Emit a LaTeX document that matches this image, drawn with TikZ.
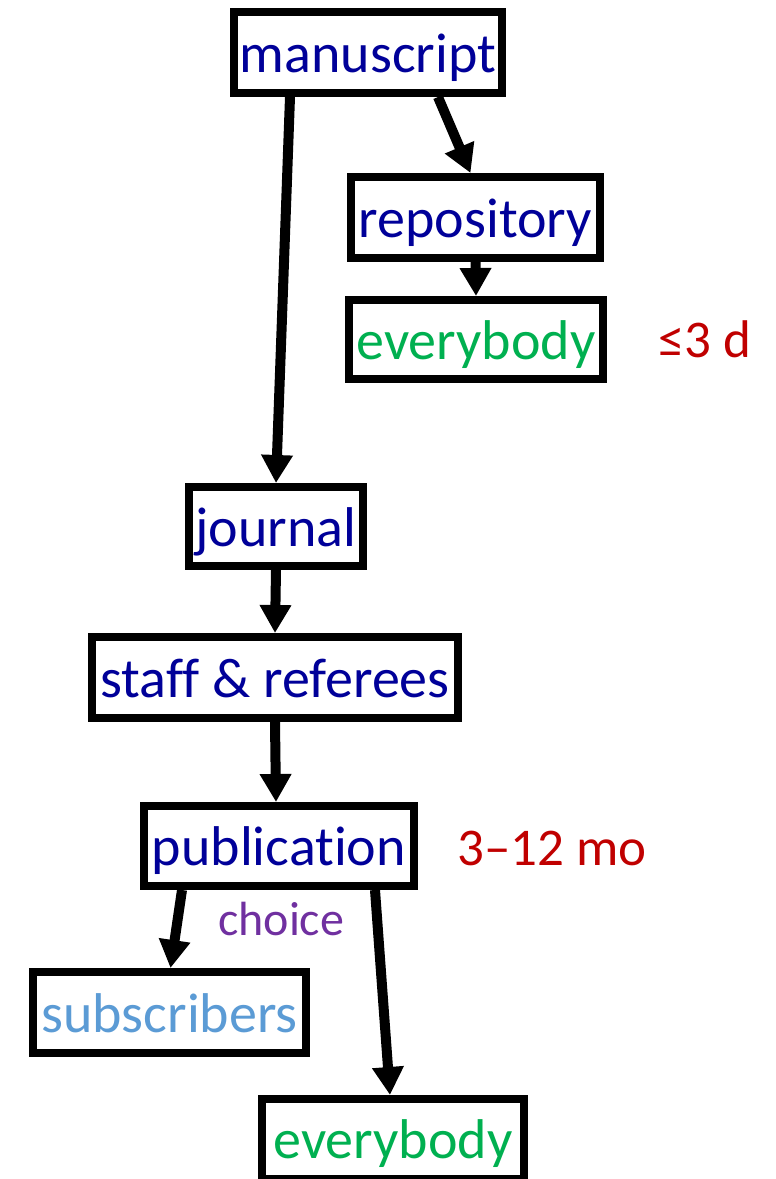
\documentclass[tikz,border=0pt]{standalone}
\usepackage{fontspec}
\setmainfont[Ligatures={NoCommon,NoDiscretionary}]{Carlito}
\usetikzlibrary{arrows.meta,calc}
\definecolor{navy}{RGB}{0,0,153}
\definecolor{okgreen}{RGB}{0,176,80}
\definecolor{darkred}{RGB}{192,0,0}
\definecolor{plum}{RGB}{112,48,160}
\definecolor{skyblue}{RGB}{91,155,213}
\begin{document}
\begin{tikzpicture}[x=1pt,y=-1pt,
  box/.style={draw=black,line width=8pt,fill=white,inner sep=0pt,
    font=\fontsize{56}{60}\selectfont,text height=42pt,text depth=3pt,
    minimum width=#1},
  box/.default=200pt,
  flow/.style={line width=10pt,-{Triangle[width=30pt,length=28pt]}},
  note/.style={inner sep=0pt,anchor=base west,font=\fontsize{53}{58}\selectfont,text=darkred}]
  \useasboundingbox (0,0) rectangle (776,1179);
  % boxes
  \node[box=268pt,minimum height=81pt,text=navy] (ms) at (368,52.5) {manuscript};
  \node[box=249pt,minimum height=81pt,text=navy] (repo) at (475.5,217.5) {repository};
  \node[box=254pt,minimum height=79pt,text=okgreen] (all1) at (476,339.5) {everybody};
  \node[box=174pt,minimum height=79pt,text=navy] (jour) at (276,526.5) {journal};
  \node[box=366pt,minimum height=81pt,text=navy] (staff) at (275,677.5) {staff \& referees};
  \node[box=270pt,minimum height=80pt,text=navy] (pub) at (279,846) {publication};
  \node[box=273pt,minimum height=81pt,text=skyblue] (subs) at (169.5,1012.5) {subscribers};
  \node[box=262pt,minimum height=80pt,text=okgreen] (all2) at (393,1139) {everybody};
  % side labels
  \node[note] (fast) at (658,357) {≤3 d};
  \node[note] (slow) at (457,865) {3–12 mo};
  \node[inner sep=0pt,anchor=base west,font=\fontsize{48}{52}\selectfont,text=plum] (choice) at (218,935) {choice};
  % connectors
  \draw[flow] ($(ms.south)+(-78,0)$) -- (jour.north);
  \draw[flow] ($(ms.south)+(70,0)$) -- ($(repo.north)+(-5,0)$);
  \draw[flow] (repo.south) -- (all1.north);
  \draw[flow] (jour.south) -- (staff.north);
  \draw[flow] (staff.south) -- ($(pub.north)+(-3,0)$);
  \draw[flow] ($(pub.south)+(-97,0)$) -- ($(subs.north)+(1,0)$);
  \draw[flow] ($(pub.south)+(96,0)$) -- ($(all2.north)+(-3,0)$);
\end{tikzpicture}
\end{document}
